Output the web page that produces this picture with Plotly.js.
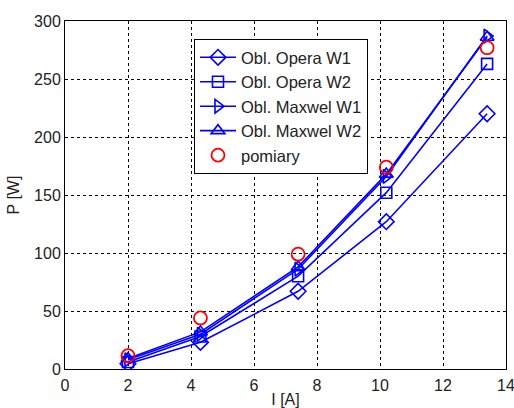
<!DOCTYPE html>
<html>
<head>
<meta charset="utf-8">
<script src="https://cdn.plot.ly/plotly-3.0.1.min.js"></script>
<style>html,body{margin:0;padding:0;background:#fff;}#chart{width:514px;height:408px;}</style>
</head>
<body>
<div id="chart"></div>
<script>
const current = [2.0, 4.3, 7.4, 10.2, 13.4];
const operaW1 = [4.5, 23, 67, 127, 220];
const operaW2 = [6, 28, 80, 152, 263];
const maxwellW1 = [8, 30, 86, 166, 287];
const maxwellW2 = [9, 32, 88, 168, 286];
const pomiary = [11.5, 44, 99, 174, 277];

const names = ['Obl. Opera W1', 'Obl. Opera W2', 'Obl. Maxwel W1', 'Obl. Maxwel W2', 'pomiary'];
const series = [operaW1, operaW2, maxwellW1, maxwellW2];
const symbols = ['diamond-open', 'square-open', 'triangle-right-open', 'triangle-up-open'];
const sizes = [12, 11, 12, 12];

const traces = series.map((s, i) => ({
  x: current, y: s, name: names[i], type: 'scatter', mode: 'lines+markers',
  line: {color: '#0000ff', width: 1.6},
  marker: {symbol: symbols[i], size: sizes[i], color: '#0000ff', line: {color: '#0000ff', width: 1.6}}
}));
traces.push({
  x: current, y: pomiary, name: names[4], type: 'scatter', mode: 'markers',
  marker: {symbol: 'circle-open', size: 13, color: '#ff0000', line: {color: '#ff0000', width: 1.8}}
});

const font = {family: 'Liberation Sans, Arial, sans-serif', size: 16, color: '#222'};
const layout = {
  width: 514, height: 408,
  margin: {l: 65, r: 8, t: 21, b: 39},
  paper_bgcolor: '#fff', plot_bgcolor: '#fff',
  font: font,
  showlegend: true,
  legend: {x: 0.2925, y: 0.948, xanchor: 'left', yanchor: 'top', itemwidth: 36,
    bordercolor: '#000', borderwidth: 1, bgcolor: '#fff', font: {family: font.family, size: 16.5, color: '#222'}, tracegroupgap: 0},
  xaxis: {range: [0, 14], dtick: 2, tick0: 0, showgrid: true, gridcolor: '#000', griddash: 'dot', gridwidth: 1,
    zeroline: false, showline: true, mirror: true, linecolor: '#000', linewidth: 1, ticks: '',
    ticklabeloverflow: 'allow', ticklabelstandoff: 2,
    tickfont: font, title: {text: 'I [A]', font: font, standoff: 20}},
  yaxis: {range: [0, 300], dtick: 50, tick0: 0, showgrid: true, gridcolor: '#000', griddash: 'dot', gridwidth: 1,
    zeroline: false, showline: true, mirror: true, linecolor: '#000', linewidth: 1, ticks: '',
    tickfont: font, title: {text: 'P [W]', font: font, standoff: 10}}
};
Plotly.newPlot('chart', traces, layout, {displayModeBar: false, staticPlot: true});
</script>
</body>
</html>
